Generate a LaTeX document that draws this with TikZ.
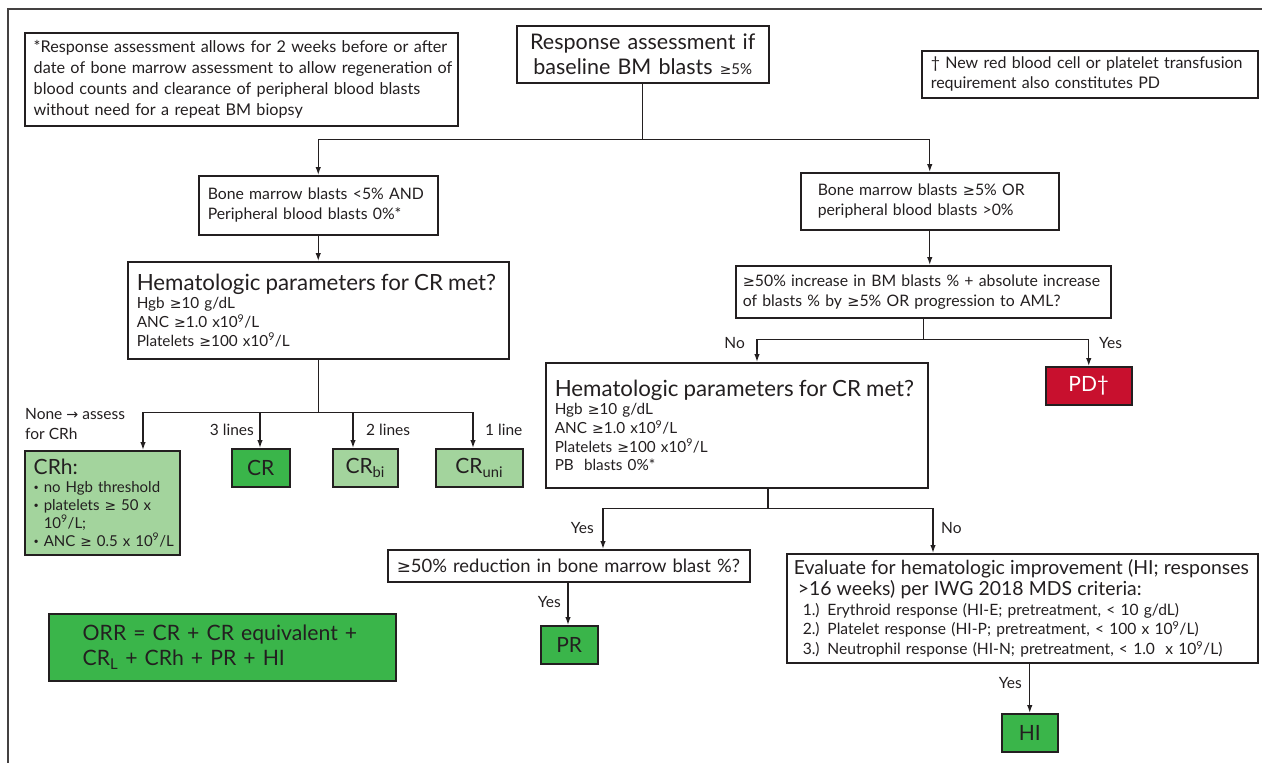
\documentclass[tikz,border=0pt]{standalone}
\usepackage{fontspec}
\setmainfont{Lato}
\newfontfamily\symf[Scale=0.92]{DejaVu Sans}
\usetikzlibrary{arrows.meta}
\definecolor{tc}{HTML}{231F20}
\definecolor{dgreen}{HTML}{3AB54A}
\definecolor{lgreen}{HTML}{A3D49D}
\definecolor{pdred}{HTML}{C8102E}
\newcommand{\gq}{{\symf ≥}}
\newcommand{\nine}{\textsuperscript{9}}
\newcommand{\mb}[1]{\mbox{#1}}
\newcommand{\bul}{\makebox[10pt][l]{\raisebox{1.5pt}{\fontsize{9}{9}\selectfont •}}}
\tikzset{
  bx/.style={draw=tc, line width=1.5pt, fill=white, text=tc, anchor=north west, inner ysep=0pt, align=left},
  ctr/.style={align=center},
  arr/.style={draw=tc, line width=1.3pt, -{Latex[length=8pt,width=5.5pt]}},
  ln/.style={draw=tc, line width=1.3pt},
  lbl/.style={text=tc, font=\fontsize{15.5}{18}\selectfont, inner sep=0pt},
  small/.style={font=\fontsize{15.3}{18.7}\selectfont},
  big/.style={font=\fontsize{21}{23}\selectfont},
}
\begin{document}
\begin{tikzpicture}[x=1pt,y=-1pt]
\useasboundingbox (0,0) rectangle (1262,763);
\draw[color=tc!85, line width=1.2pt] (8,763) -- (8,9) -- (1262,9);

% notes
\node[bx, minimum width=433, minimum height=93, text width=415, inner xsep=9, font=\fontsize{16.2}{20.8}\selectfont] (note) at (24,32)
 {\mb{*Response assessment allows for 2 weeks before or after}\\
  \mb{date of bone marrow assessment to allow regeneration of}\\
  \mb{blood counts and clearance of peripheral blood blasts}\\
  \mb{without need for a repeat BM biopsy}};
\node[bx, ctr, minimum width=252, minimum height=57, text width=240, inner xsep=6, font=\fontsize{21.5}{25}\selectfont] (top) at (516,25)
 {Response assessment if\\ baseline BM blasts {\fontsize{15}{15}\selectfont\gq5\%}};
\node[bx, minimum width=336, minimum height=47, text width=318, inner xsep=9, font=\fontsize{16}{20}\selectfont] (dag) at (921,50)
 {\mb{† New red blood cell or platelet transfusion}\\ \mb{requirement also constitutes PD}};

% left branch
\node[bx, minimum width=239, minimum height=59, text width=221, inner xsep=9, font=\fontsize{15.8}{19.5}\selectfont] (lbox) at (198,175)
 {\mb{Bone marrow blasts <5\% AND}\\ \mb{Peripheral blood blasts 0\%*}};
\node[bx, small, minimum width=381, minimum height=97, text width=363, inner xsep=9] (hemL) at (127,261)
 {{\fontsize{22.3}{25}\selectfont \mb{Hematologic parameters for CR met?}\par}
  Hgb \gq10 g/dL\\ ANC \gq1.0 x10\nine/L\\ Platelets \gq100 x10\nine/L};

\node[bx, fill=lgreen, minimum width=155, minimum height=104, text width=147, inner xsep=4, font=\fontsize{15}{18}\selectfont] (crh) at (24,450)
 {{\fontsize{21}{23}\selectfont \hspace*{5pt}CRh:\par}
  \hspace*{5pt}\bul no Hgb threshold\\ \hspace*{5pt}\bul platelets \gq{} 50 x\\ \hspace*{15pt}10\nine/L;\\ \hspace*{5pt}\bul \mb{ANC \gq{} 0.5 x 10\nine/L}};
\node[bx, ctr, big, fill=dgreen, minimum width=58, minimum height=38, inner xsep=0] (cr) at (231,448) {CR};
\node[bx, ctr, big, fill=lgreen, minimum width=65, minimum height=38, inner xsep=0] (crbi) at (332,448) {CR\textsubscript{bi}};
\node[bx, ctr, big, fill=lgreen, minimum width=87, minimum height=38, inner xsep=0] (cruni) at (435,448) {CR\textsubscript{uni}};

\node[bx, fill=dgreen, minimum width=347, minimum height=67, text width=313, inner xsep=17, font=\fontsize{21.2}{25}\selectfont] (orr) at (48,613)
 {\hspace*{17pt}ORR = CR + CR equivalent +\\ \hspace*{17pt}CR\textsubscript{L} + CRh + PR + HI};

% right branch
\node[bx, minimum width=258, minimum height=57, text width=240, inner xsep=9, font=\fontsize{15.8}{19.5}\selectfont] (rbox) at (800,172)
 {\hspace*{8pt}\mb{Bone marrow blasts \gq5\% OR}\\ \hspace*{8pt}\mb{peripheral blood blasts >0\%}};
\node[bx, minimum width=375, minimum height=52, text width=361, inner xsep=7, font=\fontsize{15.8}{20}\selectfont] (inc) at (735,265)
 {\mb{\gq50\% increase in BM blasts \% + absolute increase}\\ \mb{of blasts \% by \gq5\% OR progression to AML?}};
\node[bx, ctr, big, fill=pdred, text=white, minimum width=86, minimum height=38, inner xsep=0] (pd) at (1045,366) {PD†};
\node[bx, small, minimum width=382, minimum height=125, text width=364, inner xsep=9] (hemR) at (545,362)
 {{\fontsize{22.3}{25}\selectfont \mb{Hematologic parameters for CR met?}\par}
  Hgb \gq10 g/dL\\ ANC \gq1.0 x10\nine/L\\ Platelets \gq100 x10\nine/L\\ PB\ \ blasts 0\%*};

\node[bx, minimum width=362, minimum height=32, text width=352, inner xsep=5, font=\fontsize{18.4}{20}\selectfont] (red) at (387,549)
 {\hspace*{4pt}\mb{\gq50\% reduction in bone marrow blast \%?}};
\node[bx, ctr, big, fill=dgreen, minimum width=57, minimum height=38, inner xsep=0] (pr) at (540,625) {PR};
\node[bx, minimum width=471, minimum height=109, text width=461, inner xsep=5, font=\fontsize{15.6}{19.6}\selectfont] (eval) at (786,553)
 {{\fontsize{19.4}{21}\selectfont \mb{\hspace*{2pt}Evaluate for hematologic improvement (HI; responses}\\ \hspace*{6pt}>16 weeks) per IWG 2018 MDS criteria:\par}
  \hspace*{11pt}1.) Erythroid response (HI-E; pretreatment, < 10 g/dL)\\
  \hspace*{11pt}2.) Platelet response (HI-P; pretreatment, < 100 x 10\nine/L)\\
  \hspace*{11pt}\mb{3.) Neutrophil response (HI-N; pretreatment, < 1.0\ \ x 10\nine/L)}};
\node[bx, ctr, big, fill=dgreen, minimum width=56, minimum height=38, inner xsep=0] (hi) at (1001,713) {HI};

% connectors
\path (top.south) ++(0,56) coordinate (j1);
\draw[ln] (top.south) -- (j1);
\draw[arr] (j1) -| (lbox.north);
\draw[arr] (j1) -| (rbox.north);
\draw[arr] (lbox.south) -- (lbox.south |- hemL.north);
\path (hemL.south) ++(0,53) coordinate (j2);
\draw[ln] (hemL.south) -- (j2);
\draw[arr] (j2) -| ([xshift=119pt]crh.north west);
\draw[arr] (j2) -| ([xshift=29pt]cr.north west);
\draw[arr] (j2) -| ([xshift=21pt]crbi.north west);
\draw[arr] (j2) -| ([xshift=38pt]cruni.north west);

\draw[arr] (rbox.south) -- (rbox.south |- inc.north);
\path (inc.south) ++(0,21) coordinate (j3);
\draw[ln] (inc.south) -- (j3);
\draw[arr] (j3) -| ([xshift=212pt]hemR.north west);
\draw[arr] (j3) -| (pd.north);

\path ([xshift=223pt]hemR.south west) ++(0,20) coordinate (j4);
\draw[ln] ([xshift=223pt]hemR.south west) -- (j4);
\draw[arr] (j4) -| ([xshift=216pt]red.north west);
\draw[arr] (j4) -| ([xshift=147pt]eval.north west);
\draw[arr] ([xshift=181pt]red.south west) -- ([xshift=181pt]red.south west |- pr.north);
\draw[arr] (hi.north |- eval.south) -- (hi.north);

% labels
\node[lbl, anchor=west] (l1) at (25,414) {None {\symf →} assess};
\node[lbl, anchor=west] (l2) at (25,434) {for CRh};
\node[lbl, anchor=east] (l3) at (254,430) {3 lines};
\node[lbl, anchor=west] (l4) at (366,430) {2 lines};
\node[lbl, anchor=west] (l5) at (485,430) {1 line};
\node[lbl, anchor=east] (l6) at (745,343) {No};
\node[lbl, anchor=west] (l7) at (1099,343) {Yes};
\node[lbl, anchor=east] (l8) at (594,528) {Yes};
\node[lbl, anchor=west] (l9) at (941,528) {No};
\node[lbl, anchor=east] (l10) at (561,602) {Yes};
\node[lbl, anchor=east] (l11) at (1022,683) {Yes};
\end{tikzpicture}
\end{document}
